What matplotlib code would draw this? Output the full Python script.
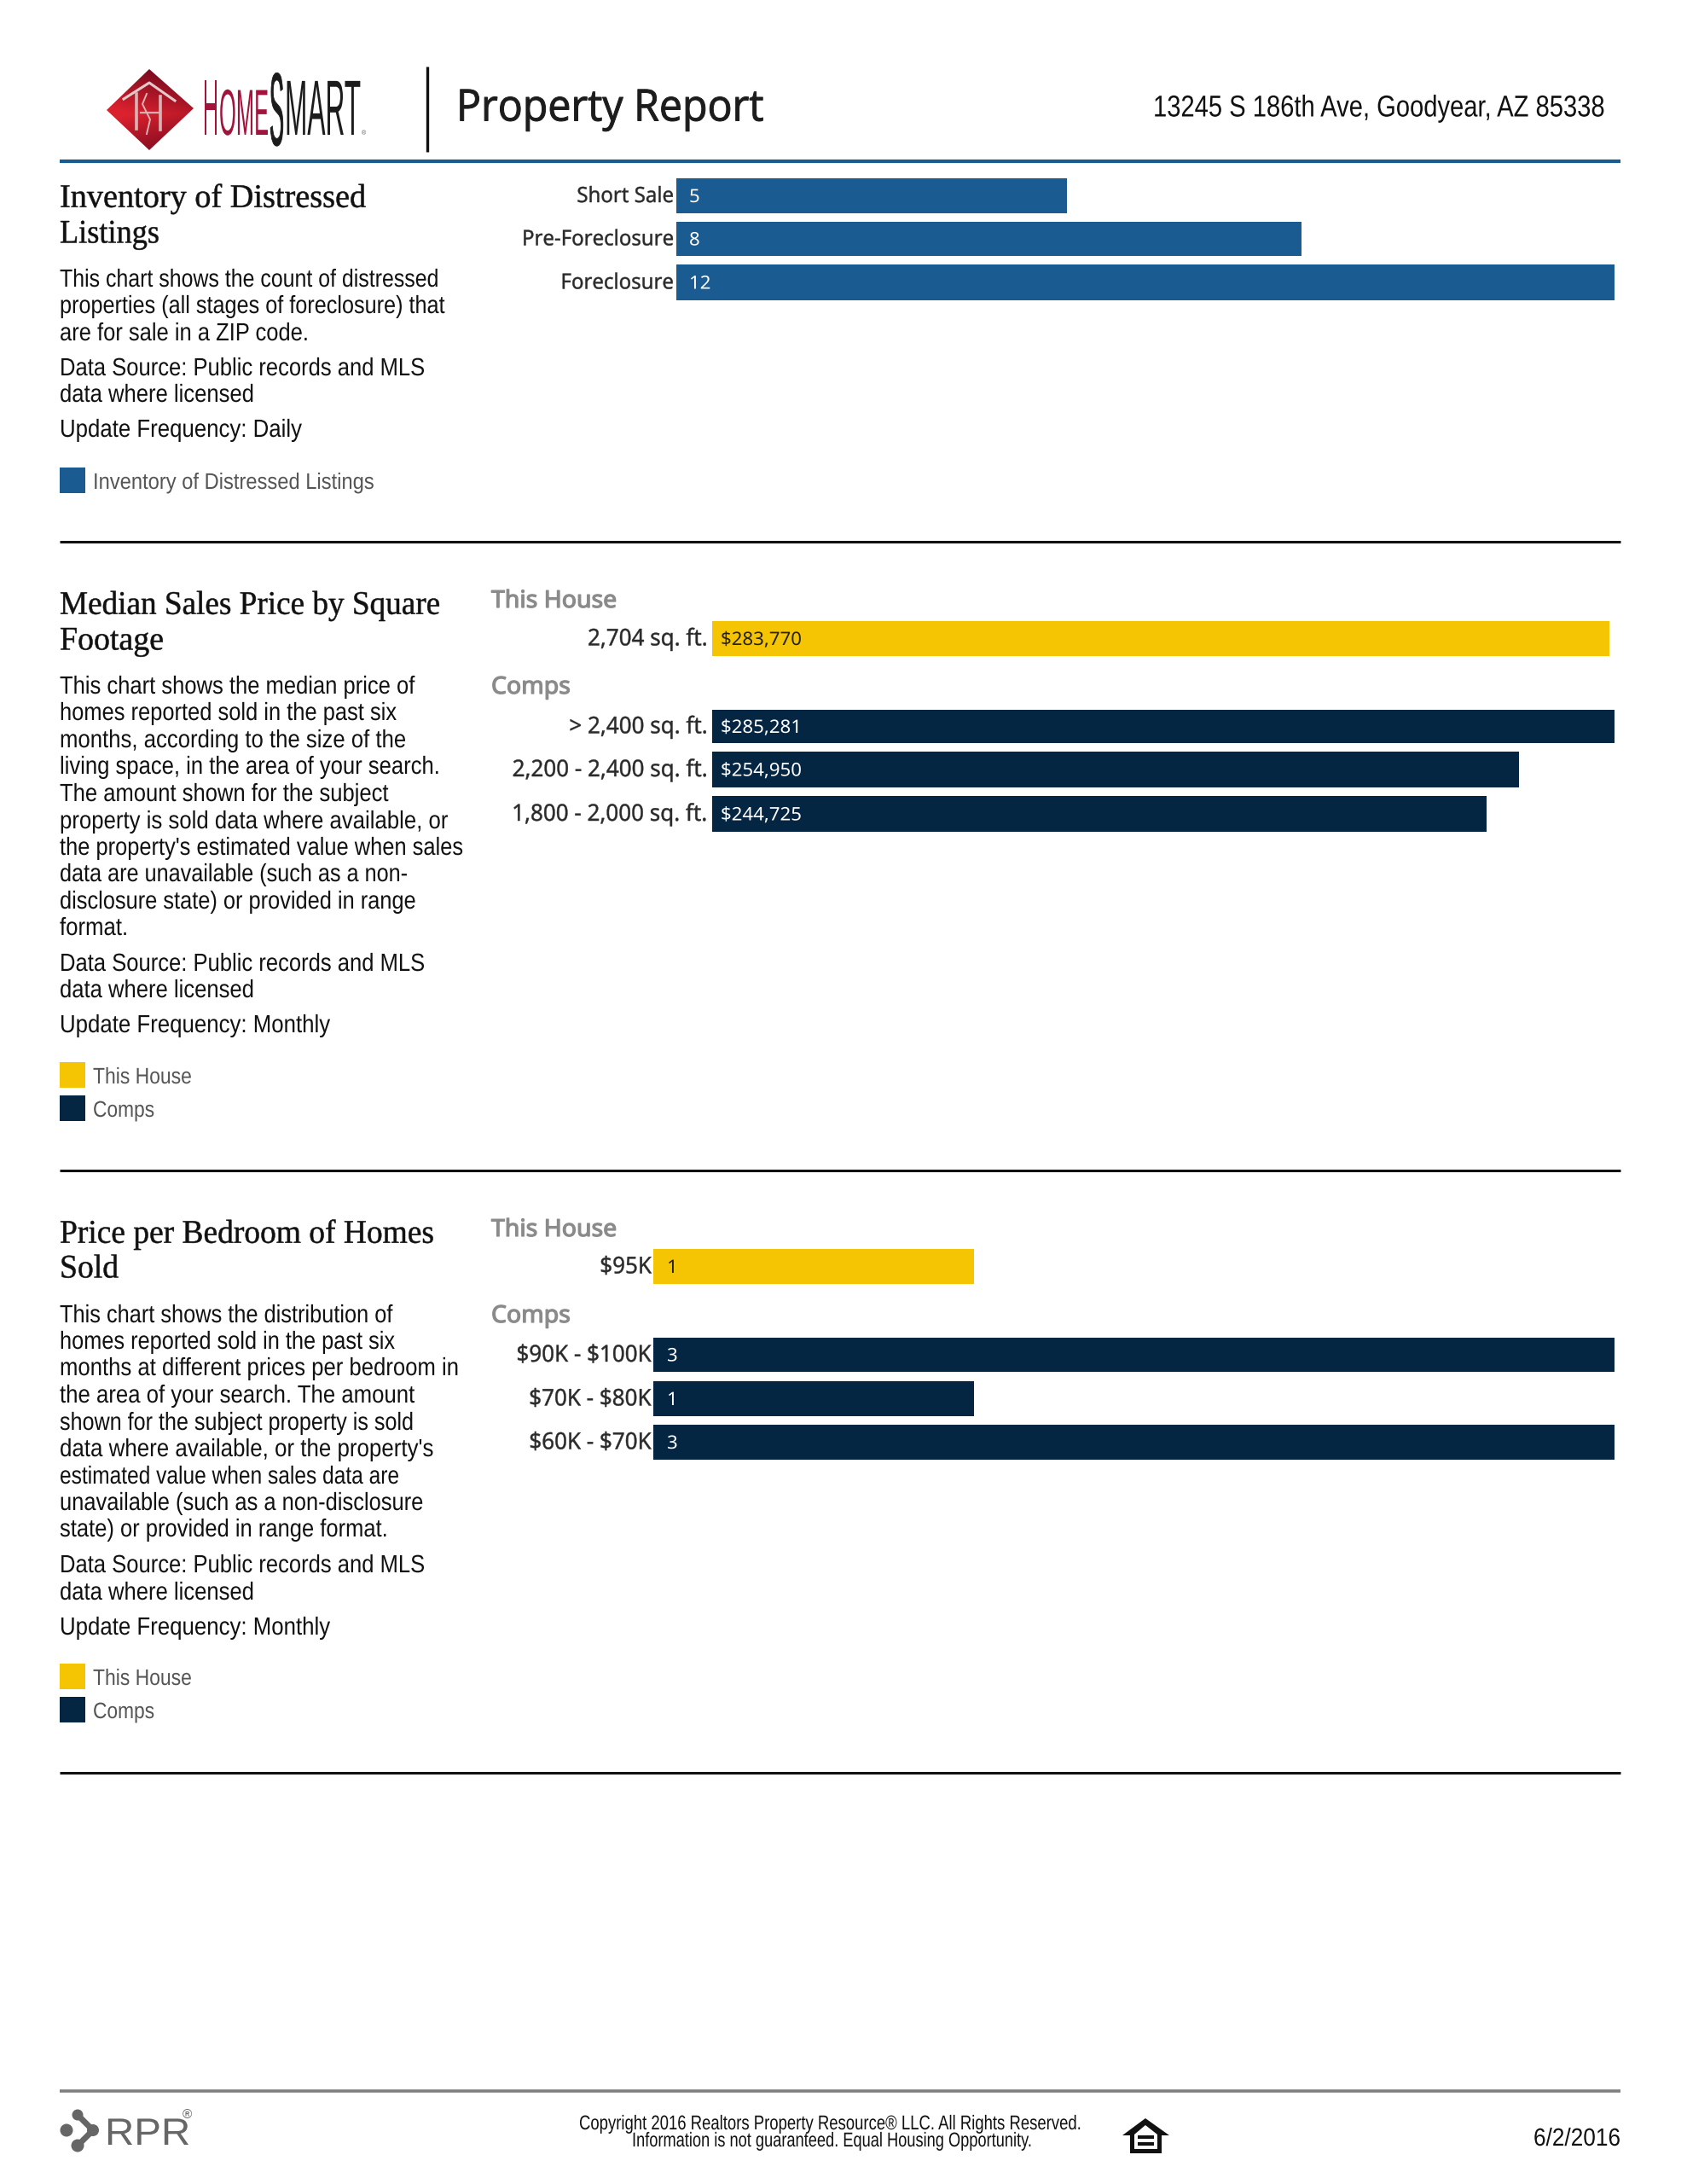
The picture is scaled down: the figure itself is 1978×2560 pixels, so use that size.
#!/usr/bin/env python3
"""Property report page: three distressed/price bar charts with side text."""
import numpy as np
import matplotlib
matplotlib.use('Agg')
import matplotlib.pyplot as plt
from matplotlib.patches import Polygon, Rectangle, Circle
from matplotlib.patheffects import AbstractPathEffect
from matplotlib.transforms import Affine2D

W, H = 1978, 2560

# ── data ──────────────────────────────────────────────────────────────────────
distressed_labels = ['Short Sale', 'Pre-Foreclosure', 'Foreclosure']
distressed_counts = [5, 8, 12]

sqft_labels = ['2,704 sq. ft.', '> 2,400 sq. ft.', '2,200 - 2,400 sq. ft.', '1,800 - 2,000 sq. ft.']
sqft_prices = [283770, 285281, 254950, 244725]

bedroom_labels = ['$95K', '$90K - $100K', '$70K - $80K', '$60K - $70K']
bedroom_counts = [1, 3, 1, 3]

# ── colours / fonts ───────────────────────────────────────────────────────────
BLUE = '#1a5c92'
YELLOW = '#f5c402'
NAVY = '#052643'
CRIMSON = '#a1153c'
SANS = ['Liberation Sans', 'DejaVu Sans']
SERIF = ['Liberation Serif', 'DejaVu Serif']
LABEL = ['Noto Sans', 'DejaVu Sans']
HEAD = ['Open Sans', 'DejaVu Sans']


class Squeeze(AbstractPathEffect):
    """Scale drawn text around a page x and its baseline (tight PDF-style tracking)."""
    def __init__(self, sx, x0, sy=1.0, stroke=0.0):
        super().__init__()
        self.sx, self.sy, self.x0, self.stroke = sx, sy, x0, stroke

    def draw_path(self, renderer, gc, tpath, affine, rgbFace=None):
        y0 = affine.get_matrix()[1, 2]
        sq = Affine2D().translate(-self.x0, -y0).scale(self.sx, self.sy).translate(self.x0, y0)
        gc0 = renderer.new_gc()
        gc0.copy_properties(gc)
        if self.stroke:
            gc0.set_linewidth(self.stroke)
            gc0.set_foreground(rgbFace)
        renderer.draw_path(gc0, tpath, affine + sq, rgbFace)
        gc0.restore()


fig = plt.figure(figsize=(W / 100, H / 100), dpi=100, facecolor='white')
page = fig.add_axes([0, 0, 1, 1], zorder=5)
page.set_xlim(0, W)
page.set_ylim(H, 0)
page.axis('off')
rend = fig.canvas.get_renderer()


def txt(x, y, s, size, family=SANS, color='#111111', w=None, sx=None, sy=1.0,
        ha='left', va='center', stroke=0.0, **kw):
    if va == 'center':
        y += 3
    t = page.text(x, y, s, fontsize=size, family=family, color=color, ha=ha, va=va,
                  parse_math=False, **kw)
    if w is not None:
        sx = w / t.get_window_extent(rend).width
    if sx is not None or sy != 1.0 or stroke:
        t.set_path_effects([Squeeze(sx if sx is not None else 1.0, x, sy, stroke)])
    return t


def scale_for(s, size, family, target):
    t = page.text(0, 0, s, fontsize=size, family=family, parse_math=False)
    r = target / t.get_window_extent(rend).width
    t.remove()
    return r


def hline(y, x0=70, x1=1900, color='#111111', lw=2.2):
    page.plot([x0, x1], [y, y], color=color, lw=lw, solid_capstyle='butt')


BODY_SIZE = 21
TITLE_SIZE = 28
LEG_SIZE = 19
LAB_SIZE = 18
LAB_SX = scale_for('Pre-Foreclosure', LAB_SIZE, LABEL, 178)
GRP_SIZE = 20
GRP_SX = scale_for('This House', GRP_SIZE, LABEL, 147)
VAL_SIZE = 15.5
VAL_SX = scale_for('$283,770', VAL_SIZE, LABEL, 95)
GRP_GREY = '#8a8a8a'


def side_text(title_lines, title_y, title_w, body_lines, body_y, body_w, legend, legend_y):
    for s, y, wd in zip(title_lines, title_y, title_w):
        txt(70, y, s, TITLE_SIZE, family=SERIF, w=wd, stroke=0.35)
    for s, y, wd in zip(body_lines, body_y, body_w):
        txt(70, y, s, BODY_SIZE, w=wd)
    for (name, col, wd), y in zip(legend, legend_y):
        page.add_patch(Rectangle((70, y - 15), 30, 30, color=col, lw=0))
        txt(109, y, name, LEG_SIZE, color='#555555', w=wd)


def bars(x0, x1, vmax, tops, bottoms, values, colors):
    """Own axes per chart; y axis runs in page pixels so rows line up with the text."""
    top, bottom = min(tops), max(bottoms)
    ax = fig.add_axes([x0 / W, 1 - bottom / H, (x1 - x0) / W, (bottom - top) / H])
    ax.set_xlim(0, vmax)
    ax.set_ylim(bottom, top)
    ax.axis('off')
    cy = [(a + b) / 2 for a, b in zip(tops, bottoms)]
    hh = [b - a for a, b in zip(tops, bottoms)]
    ax.barh(cy, values, height=hh, color=colors, linewidth=0)
    return cy


# ── header ────────────────────────────────────────────────────────────────────
grad = np.linspace(0, 1, 200)
gx, gy = np.meshgrid(grad, grad)
d = np.clip(np.abs(gy - 0.55) * 1.6 + (gx - 0.3) * 0.5, 0, 1)[..., None]
rgb = np.array([0.86, 0.13, 0.18]) * (1 - d) + np.array([0.47, 0.04, 0.12]) * d
im = page.imshow(rgb, extent=(125, 227, 176, 81), aspect='auto', zorder=1)
diamond = Polygon([(125, 129), (175, 81), (227, 127), (175, 176)], transform=page.transData,
                  fc='none', ec='none')
page.add_patch(diamond)
im.set_clip_path(diamond)
page.set_xlim(0, W)
page.set_ylim(H, 0)
mark = '#e5c9c9'
page.plot([145, 175, 205], [116, 97, 118], color=mark, lw=2.2, zorder=2)
page.plot([160, 160], [110, 151], color='#d9b3b3', lw=2.6, zorder=2)
page.plot([188, 188], [113, 152], color='#d9b3b3', lw=2.6, zorder=2)
page.plot([165, 188], [132, 132], color='#d9b3b3', lw=1.6, zorder=2)
page.plot([172, 167, 176, 172], [110, 122, 140, 157], color='#d9b3b3', lw=1.4, zorder=2)

# logo letters: small natural size, stretched tall by the path effect
txt(238, 158, 'H', 18.5, color=CRIMSON, w=18, sy=3.6, va='baseline')
txt(257, 158, 'OME', 18, color=CRIMSON, w=58, sy=3.05, va='baseline')
txt(316, 170, 'S', 18, color='#1c1c1c', w=17, sy=4.85, va='baseline', stroke=0.6)
txt(334, 158, 'MART', 22.4, color='#1c1c1c', w=89, sy=2.95, va='baseline')
txt(424, 158, '®', 5, color='#555555', va='baseline')

page.plot([501, 501], [78, 178], color='#111111', lw=2.4, solid_capstyle='butt')
txt(535, 125, 'Property Report', 37, family=HEAD, color='#1c1c1c', w=360, stroke=0.7)
txt(1352, 125, '13245 S 186th Ave, Goodyear, AZ 85338', 24, w=530, sy=1.06)
hline(189, color=BLUE, lw=3)

# ── inventory of distressed listings ──────────────────────────────────────────
side_text(['Inventory of Distressed', 'Listings'], [230, 272], [359, 117],
          ['This chart shows the count of distressed',
           'properties (all stages of foreclosure) that',
           'are for sale in a ZIP code.',
           'Data Source: Public records and MLS',
           'data where licensed',
           'Update Frequency: Daily'],
          [325, 356, 388, 429, 460, 501],
          [444, 452, 292, 428, 228, 284],
          [('Inventory of Distressed Listings', BLUE, 330)], [563])
cy = bars(793, 1893, max(distressed_counts), [209, 260, 310], [250, 300, 352],
          distressed_counts, [BLUE] * 3)
for s, v, y in zip(distressed_labels, distressed_counts, cy):
    txt(790, y - 2, s, LAB_SIZE, family=LABEL, color='#2a2a2a', sx=LAB_SX, ha='right', stroke=0.3)
    txt(808, y - 1, str(v), VAL_SIZE, family=LABEL, color='white', sx=VAL_SX)
hline(635)

# ── median sales price by square footage ──────────────────────────────────────
side_text(['Median Sales Price by Square', 'Footage'], [707, 749], [446, 122],
          ['This chart shows the median price of',
           'homes reported sold in the past six',
           'months, according to the size of the',
           'living space, in the area of your search.',
           'The amount shown for the subject',
           'property is sold data where available, or',
           "the property's estimated value when sales",
           'data are unavailable (such as a non-',
           'disclosure state) or provided in range',
           'format.',
           'Data Source: Public records and MLS',
           'data where licensed',
           'Update Frequency: Monthly'],
          [802, 833, 865, 896, 928, 960, 991, 1022, 1054, 1085, 1127, 1158, 1199],
          [416, 395, 406, 446, 385, 456, 473, 408, 418, 80, 428, 228, 317],
          [('This House', YELLOW, 116), ('Comps', NAVY, 72)], [1260, 1299])
txt(576, 702, 'This House', GRP_SIZE, family=LABEL, color=GRP_GREY, sx=GRP_SX, stroke=0.9)
txt(576, 803, 'Comps', GRP_SIZE, family=LABEL, color=GRP_GREY, sx=GRP_SX, stroke=0.9)
cy = bars(835, 1893, max(sqft_prices), [728, 832, 881, 933], [769, 871, 923, 975],
          sqft_prices, [YELLOW, NAVY, NAVY, NAVY])
for i, (s, v, y) in enumerate(zip(sqft_labels, sqft_prices, cy)):
    txt(830, y - 2, s, 19.5, family=LABEL, color='#2a2a2a', sx=LAB_SX, ha='right', stroke=0.3)
    txt(845, y - 1, f'${v:,}', VAL_SIZE, family=LABEL, color='#222222' if i == 0 else 'white', sx=VAL_SX)
hline(1372)

# ── price per bedroom ─────────────────────────────────────────────────────────
side_text(['Price per Bedroom of Homes', 'Sold'], [1444, 1485], [439, 69],
          ['This chart shows the distribution of',
           'homes reported sold in the past six',
           'months at different prices per bedroom in',
           'the area of your search. The amount',
           'shown for the subject property is sold',
           "data where available, or the property's",
           'estimated value when sales data are',
           'unavailable (such as a non-disclosure',
           'state) or provided in range format.',
           'Data Source: Public records and MLS',
           'data where licensed',
           'Update Frequency: Monthly'],
          [1539, 1570, 1601, 1633, 1665, 1696, 1728, 1759, 1790, 1832, 1864, 1905],
          [390, 393, 468, 416, 415, 439, 398, 426, 385, 428, 228, 317],
          [('This House', YELLOW, 116), ('Comps', NAVY, 72)], [1965, 2004])
txt(576, 1439, 'This House', GRP_SIZE, family=LABEL, color=GRP_GREY, sx=GRP_SX, stroke=0.9)
txt(576, 1540, 'Comps', GRP_SIZE, family=LABEL, color=GRP_GREY, sx=GRP_SX, stroke=0.9)
cy = bars(766, 1893, max(bedroom_counts), [1464, 1568, 1619, 1670], [1505, 1608, 1660, 1711],
          bedroom_counts, [YELLOW, NAVY, NAVY, NAVY])
for i, (s, v, y) in enumerate(zip(bedroom_labels, bedroom_counts, cy)):
    txt(764, y - 2, s, 19.5, family=LABEL, color='#2a2a2a', sx=LAB_SX, ha='right', stroke=0.3)
    txt(782, y - 1, str(v), VAL_SIZE, family=LABEL, color='#222222' if i == 0 else 'white', sx=VAL_SX)
hline(2078)

# ── footer ────────────────────────────────────────────────────────────────────
hline(2451, color='#7f7f7f', lw=2.6)
grey = '#666666'
page.plot([91, 109, 91], [2479, 2497, 2515], color=grey, lw=5, solid_capstyle='round')
for cx, cyy, r in [(91, 2479, 6.5), (78, 2497, 7.5), (109, 2497, 7), (91, 2515, 7.5)]:
    page.add_patch(Circle((cx, cyy), r, color=grey, lw=0))
txt(123, 2514, 'RPR', 32, color=grey, w=100, va='baseline')
txt(214, 2476, '®', 11, color=grey, va='center')

txt(974, 2487, 'Copyright 2016 Realtors Property Resource® LLC. All Rights Reserved.', 17,
    w=590, ha='center')
txt(976, 2507, 'Information is not guaranteed. Equal Housing Opportunity.', 17, w=470, ha='center')

page.add_patch(Polygon([(1343, 2483), (1371, 2503), (1362, 2503), (1362, 2524), (1325, 2524),
                        (1325, 2503), (1316, 2503)], fc='#111111', ec='none'))
page.add_patch(Polygon([(1343, 2491), (1357, 2502), (1357, 2519), (1330, 2519), (1330, 2502)],
                       fc='white', ec='none'))
page.add_patch(Rectangle((1334, 2503), 19, 4, fc='#111111', lw=0))
page.add_patch(Rectangle((1334, 2511), 19, 4, fc='#111111', lw=0))

txt(1900, 2504, '6/2/2016', 21, ha='right', w=102)

fig.savefig('out.png', dpi=100, facecolor='white')
plt.close(fig)
